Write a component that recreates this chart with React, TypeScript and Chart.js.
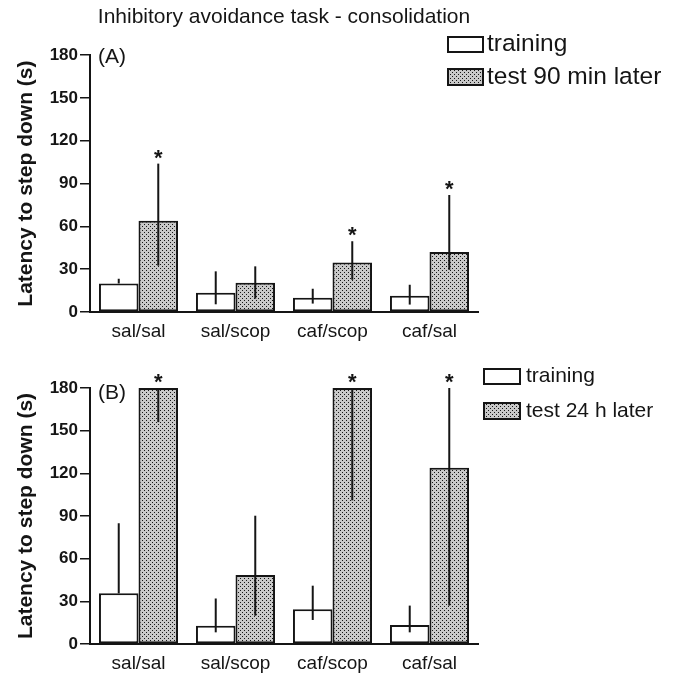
import React, { useEffect, useRef } from 'react';
import { Chart, registerables } from 'chart.js';

Chart.register(...registerables);

// ---------- data ----------
const categories = ['sal/sal', 'sal/scop', 'caf/scop', 'caf/sal'];
const yTicks = [0, 30, 60, 90, 120, 150, 180];

// Panel A: test 90 min later
const trainA = [20, 13.5, 10, 11.4];
const trainALow = [20, 5.4, 5.9, 5.2];
const trainAHigh = [23.3, 28.5, 16.3, 19.1];
const testA = [64, 20.5, 34.7, 42];
const testALow = [32.5, 9.4, 22.6, 29.6];
const testAHigh = [104, 32, 49.6, 82];
const sigA = [true, false, true, true];

// Panel B: test 24 h later
const trainB = [35.6, 12.9, 24.4, 13.4];
const trainBLow = [35.6, 8.2, 16.9, 8.2];
const trainBHigh = [84.9, 32, 41, 27];
const testB = [180, 48.5, 180, 124];
const testBLow = [156, 19.9, 101, 27];
const testBHigh = [180, 90.2, 180, 180];
const sigB = [true, false, true, true];

const titleText = 'Inhibitory avoidance task - consolidation';
const yTitle = 'Latency to step down (s)';
const legendA = ['training', 'test 90 min later'];
const legendB = ['training', 'test 24 h later'];

// ---------- styling ----------
const FONT = '"Liberation Sans", Arial, Helvetica, sans-serif';
const INK = '#151515';

function makePattern(): CanvasPattern | string {
  const c = document.createElement('canvas');
  c.width = 4;
  c.height = 4;
  const g = c.getContext('2d');
  if (!g) return '#b8b8b8';
  g.fillStyle = '#c9c9c9';
  g.fillRect(0, 0, 4, 4);
  g.fillStyle = '#161616';
  g.fillRect(0, 0, 1, 1);
  g.fillRect(2, 2, 1, 1);
  return g.createPattern(c, 'repeat') || '#b8b8b8';
}

interface PanelSpec {
  train: number[];
  trainLow: number[];
  trainHigh: number[];
  test: number[];
  testLow: number[];
  testHigh: number[];
  sig: boolean[];
  legend: string[];
  label: string;
  title?: string;
  padTop: number;
  padBottom: number;
  legendX: number;
  legendW: number;
  legendY: [number, number];
  legendH: [number, number];
  legendTextX: number;
  legendFont: number;
  labelY: number;
}

function buildChart(canvas: HTMLCanvasElement, p: PanelSpec): Chart {
  const pattern = makePattern();

  const errorPlugin = {
    id: 'errorBars' + p.label,
    afterDatasetsDraw(chart: any) {
      const { ctx } = chart;
      const ys = chart.scales.y;
      const series = [
        { low: p.trainLow, high: p.trainHigh },
        { low: p.testLow, high: p.testHigh },
      ];
      ctx.save();
      ctx.strokeStyle = INK;
      ctx.lineWidth = 2;
      series.forEach((s, di) => {
        const meta = chart.getDatasetMeta(di);
        meta.data.forEach((bar: any, i: number) => {
          const lo = ys.getPixelForValue(s.low[i]);
          const hi = ys.getPixelForValue(s.high[i]);
          ctx.beginPath();
          ctx.moveTo(bar.x, lo);
          ctx.lineTo(bar.x, hi);
          ctx.stroke();
        });
      });
      ctx.restore();
    },
  };

  const annotPlugin = {
    id: 'annot' + p.label,
    afterDraw(chart: any) {
      const { ctx } = chart;
      const ys = chart.scales.y;
      ctx.save();
      // asterisks
      ctx.fillStyle = INK;
      ctx.font = `bold 22px ${FONT}`;
      ctx.textAlign = 'center';
      ctx.textBaseline = 'alphabetic';
      const meta = chart.getDatasetMeta(1);
      p.sig.forEach((s, i) => {
        if (!s) return;
        const bar: any = meta.data[i];
        const top = ys.getPixelForValue(p.testHigh[i]);
        ctx.fillText('*', bar.x, top + 1);
      });
      // panel label
      ctx.font = `21px ${FONT}`;
      ctx.textAlign = 'left';
      ctx.textBaseline = 'middle';
      ctx.fillText(p.label, chart.chartArea.left + 8, p.labelY);
      // legend
      const fills = ['#ffffff', pattern];
      for (let k = 0; k < 2; k++) {
        const y0 = p.legendY[k];
        const h = p.legendH[k];
        ctx.fillStyle = fills[k] as any;
        ctx.fillRect(p.legendX, y0, p.legendW, h);
        ctx.strokeStyle = INK;
        ctx.lineWidth = 2;
        ctx.strokeRect(p.legendX, y0, p.legendW, h);
        ctx.fillStyle = INK;
        ctx.font = `${p.legendFont}px ${FONT}`;
        ctx.textBaseline = 'middle';
        ctx.fillText(p.legend[k], p.legendTextX, y0 + h / 2);
      }
      ctx.restore();
    },
  };

  return new Chart(canvas, {
    type: 'bar',
    data: {
      labels: categories,
      datasets: [
        {
          label: p.legend[0],
          data: p.train,
          backgroundColor: '#ffffff',
          borderColor: INK,
          borderWidth: 2,
          borderSkipped: false,
          categoryPercentage: 0.815,
          barPercentage: 1.0,
          clip: false as any,
        },
        {
          label: p.legend[1],
          data: p.test,
          backgroundColor: pattern as any,
          borderColor: INK,
          borderWidth: 2,
          borderSkipped: false,
          categoryPercentage: 0.815,
          barPercentage: 1.0,
          clip: false as any,
        },
      ],
    },
    options: {
      responsive: false,
      animation: false,
      layout: {
        padding: { left: 10, right: 195, top: p.padTop, bottom: p.padBottom },
      },
      plugins: {
        legend: { display: false },
        tooltip: { enabled: false },
        title: {
          display: !!p.title,
          text: p.title || '',
          fullSize: false,
          color: INK,
          font: { family: FONT, size: 21, weight: 'normal' },
          padding: { top: 5, bottom: 25 },
        },
      },
      scales: {
        x: {
          type: 'category',
          afterFit: (axis: any) => {
            axis.height = 30;
          },
          grid: { display: true, drawOnChartArea: false, drawTicks: false },
          border: { display: true, color: INK, width: 2 },
          ticks: {
            color: INK,
            padding: 8,
            maxRotation: 0,
            font: { family: FONT, size: 19 },
          },
        },
        y: {
          min: 0,
          max: 180,
          afterFit: (axis: any) => {
            axis.width = 80;
          },
          afterBuildTicks: (axis: any) => {
            axis.ticks = yTicks.map((v) => ({ value: v }));
          },
          grid: {
            display: true,
            drawOnChartArea: false,
            drawTicks: true,
            tickLength: 10,
            color: INK,
            lineWidth: 1.5,
          },
          border: { display: true, color: INK, width: 2 },
          ticks: {
            color: INK,
            padding: 2,
            font: { family: FONT, size: 17, weight: 'bold' },
          },
          title: {
            display: true,
            text: yTitle,
            color: INK,
            padding: { top: 4, bottom: 0 },
            font: { family: FONT, size: 21, weight: 'bold' },
          },
        },
      },
    },
    plugins: [errorPlugin, annotPlugin],
  } as any);
}

const panelA: PanelSpec = {
  train: trainA,
  trainLow: trainALow,
  trainHigh: trainAHigh,
  test: testA,
  testLow: testALow,
  testHigh: testAHigh,
  sig: sigA,
  legend: legendA,
  label: '(A)',
  title: titleText,
  padTop: 0,
  padBottom: 0,
  legendX: 448,
  legendW: 35,
  legendY: [37, 69],
  legendH: [15, 16],
  legendTextX: 487,
  legendFont: 24.5,
  labelY: 57,
};

const panelB: PanelSpec = {
  train: trainB,
  trainLow: trainBLow,
  trainHigh: trainBHigh,
  test: testB,
  testLow: testBLow,
  testHigh: testBHigh,
  sig: sigB,
  legend: legendB,
  label: '(B)',
  padTop: 46,
  padBottom: 1,
  legendX: 484,
  legendW: 36,
  legendY: [27, 61],
  legendH: [15, 16],
  legendTextX: 526,
  legendFont: 21,
  labelY: 51,
};

export default function App() {
  const refA = useRef<HTMLCanvasElement>(null);
  const refB = useRef<HTMLCanvasElement>(null);

  useEffect(() => {
    const charts: Chart[] = [];
    if (refA.current) charts.push(buildChart(refA.current, panelA));
    if (refB.current) charts.push(buildChart(refB.current, panelB));
    return () => charts.forEach((c) => c.destroy());
  }, []);

  return (
    <div
      style={{
        position: 'absolute',
        left: 0,
        top: 0,
        width: 673,
        height: 675,
        background: '#ffffff',
      }}
    >
      <canvas ref={refA} width={673} height={342} style={{ display: 'block' }} />
      <canvas ref={refB} width={673} height={333} style={{ display: 'block' }} />
    </div>
  );
}
